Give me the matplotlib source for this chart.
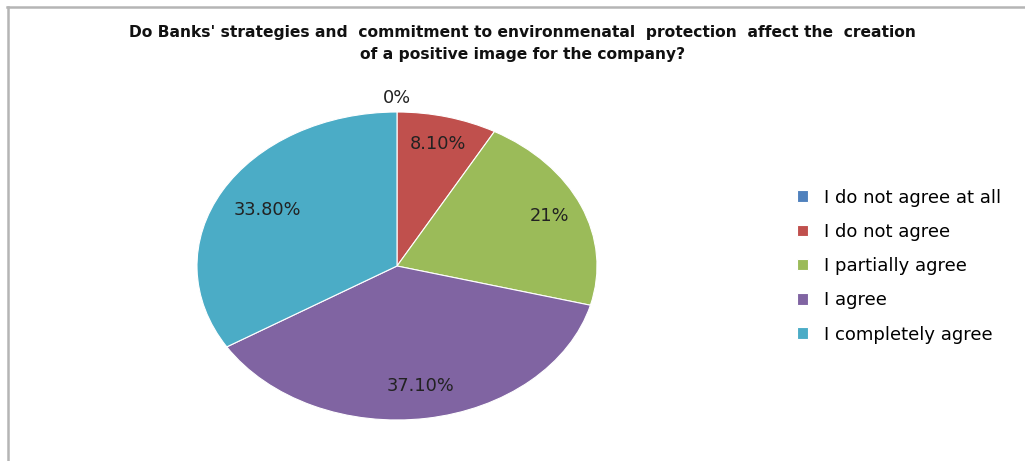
import matplotlib
matplotlib.use("Agg")
import matplotlib.pyplot as plt
from matplotlib.lines import Line2D
import numpy as np

title = ("Do Banks' strategies and  commitment to environmenatal  protection  affect the  creation\n"
         "of a positive image for the company?")
categories = ["I do not agree at all", "I do not agree", "I partially agree",
              "I agree", "I completely agree"]
shares = [0.0, 8.1, 21.0, 37.1, 33.8]
share_labels = ["0%", "8.10%", "21%", "37.10%", "33.80%"]
colors = ["#4F81BD", "#C0504D", "#9BBB59", "#8064A2", "#4BACC6"]

W, H = 1025, 461
fig = plt.figure(figsize=(W / 100, H / 100), dpi=100)
fig.patch.set_facecolor("white")

# pie is an ellipse in the original, so use an axes with free aspect
cx, cy = 397 / W, (H - 266) / H
rx, ry = 200 / W, 154 / H
pad = 1.3
ax = fig.add_axes([cx - pad * rx, cy - pad * ry, 2 * pad * rx, 2 * pad * ry])

wedges, _ = ax.pie(shares, colors=colors, startangle=90, counterclock=False,
                   wedgeprops=dict(linewidth=0.8, edgecolor="white"))
ax.set_aspect("auto")
ax.set_xlim(-pad, pad)
ax.set_ylim(-pad, pad)
ax.axis("off")

# percentage labels along each wedge's bisector
dist = [1.09, 0.82, 0.83, 0.79, 0.74]
for w, lab, d in zip(wedges, share_labels, dist):
    mid = np.deg2rad((w.theta1 + w.theta2) / 2)
    ax.text(d * np.cos(mid), d * np.sin(mid), lab, ha="center", va="center",
            fontsize=12.8, color="#222222", family="DejaVu Sans")

fig.text(0.51, (H - 43.5) / H, title, ha="center", va="center",
         multialignment="center", fontsize=11.2, fontweight="bold",
         family=["Liberation Sans Narrow", "DejaVu Sans"], color="#111111",
         linespacing=1.55)

fig.legend(wedges, categories, loc="center left",
           bbox_to_anchor=(797 / W, (H - 266) / H), frameon=False,
           prop=dict(family="DejaVu Sans", size=13),
           handlelength=0.6, handleheight=0.6,
           handletextpad=0.9, labelspacing=0.9, borderpad=0, borderaxespad=0)

# chart border (top and left visible in the crop)
fig.add_artist(Line2D([7 / W, 1], [1 - 7.5 / H, 1 - 7.5 / H], color="#b5b5b5", lw=1.8))
fig.add_artist(Line2D([7.5 / W, 7.5 / W], [0, 1 - 7.5 / H], color="#b5b5b5", lw=1.8))

fig.savefig("out.png", dpi=100)
